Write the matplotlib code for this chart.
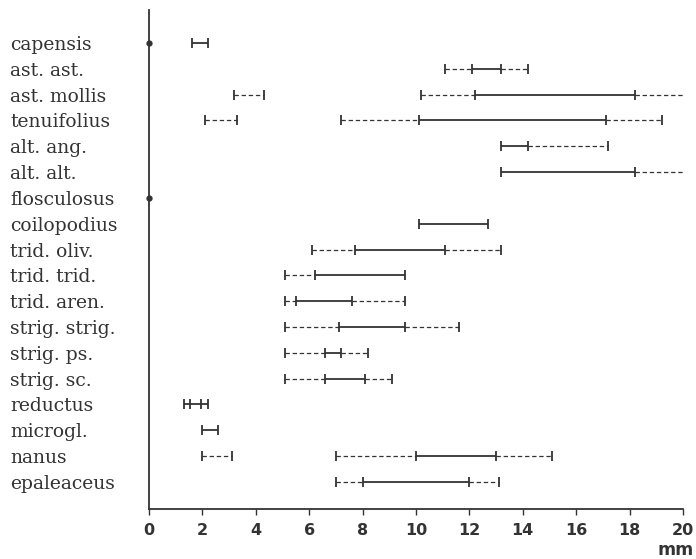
import matplotlib
matplotlib.use("Agg")
from matplotlib import pyplot as plt

##########
# DATA   #
##########

labels = ['capensis', 'ast. ast.', 'ast. mollis', 'tenuifolius', 'alt. ang.',
          'alt. alt.', 'flosculosus', 'coilopodius', 'trid. oliv.', 'trid. trid.',
          'trid. aren.', 'strig. strig.', 'strig. ps.', 'strig. sc.', 'reductus',
          'microgl.', 'nanus', 'epaleaceus']

# break points of each bar (mm), one list per row
bar_points = [
    [[1.6, 2.2]],
    [[11.1, 12.1, 13.2, 14.2]],
    [[3.2, 4.3], [10.2, 12.2, 18.2, 20.2]],
    [[2.1, 3.3], [7.2, 10.1, 17.1, 19.2]],
    [[13.2, 14.2, 17.2]],
    [[13.2, 18.2, 20.2]],
    [],
    [[10.1, 12.7]],
    [[6.1, 7.7, 11.1, 13.2]],
    [[5.1, 6.2, 9.6]],
    [[5.1, 5.5, 7.6, 9.6]],
    [[5.1, 7.1, 9.6, 11.6]],
    [[5.1, 6.6, 7.2, 8.2]],
    [[5.1, 6.6, 8.1, 9.1]],
    [[1.3, 1.55, 1.95, 2.2]],
    [[2.0, 2.6]],
    [[2.0, 3.1], [7.0, 10.0, 13.0, 15.1]],
    [[7.0, 8.0, 12.0, 13.1]],
]

# style of each segment between break points: 's' solid (core), 'd' dashed (extremes)
bar_styles = [
    [['s']],
    [['d', 's', 'd']],
    [['d'], ['d', 's', 'd']],
    [['d'], ['d', 's', 'd']],
    [['s', 'd']],
    [['s', 'd']],
    [],
    [['s']],
    [['d', 's', 'd']],
    [['d', 's']],
    [['d', 's', 'd']],
    [['d', 's', 'd']],
    [['d', 's', 'd']],
    [['d', 's', 'd']],
    [['s', 's', 's']],
    [['s']],
    [['d'], ['d', 's', 'd']],
    [['d', 's', 'd']],
]

# rows that only have a point at zero
dot_rows = ['capensis', 'flosculosus']
dot_value = 0

xticks = list(range(0, 21, 2))

##########
# PLOT   #
##########

ink = '#333333'

fig = plt.figure(figsize=(6.96, 5.59), dpi=100)
ax = fig.add_axes([149 / 696, 1 - 509 / 559, (683 - 149) / 696, (509 - 10) / 559])

for i, (bars, styles) in enumerate(zip(bar_points, bar_styles)):
    for pts, sty in zip(bars, styles):
        for x0, x1, s in zip(pts[:-1], pts[1:], sty):
            if s == 's':
                ax.plot([x0, x1], [i, i], '-', color=ink, lw=1.3, solid_capstyle='butt')
            else:
                ax.plot([x0, x1], [i, i], color=ink, lw=0.9, dashes=(3.5, 2.2))
        ax.plot(pts, [i] * len(pts), linestyle='none', marker='|', ms=7,
                mew=1.3, color=ink)

for name in dot_rows:
    ax.plot(dot_value, labels.index(name), 'o', ms=3.5, color=ink, clip_on=False,
            zorder=5)

ax.set_xlim(0, 20)
ax.set_ylim(18.05, -1.28)

ax.spines['top'].set_visible(False)
ax.spines['right'].set_visible(False)
for sp in ['left', 'bottom']:
    ax.spines[sp].set_color(ink)
    ax.spines[sp].set_linewidth(1.3)

ax.set_xticks(xticks)
ax.set_xticklabels([str(t) for t in xticks], fontsize=11.5, fontweight='bold',
                   color=ink)
ax.tick_params(axis='x', length=4, width=1, color=ink, pad=6)

ax.set_yticks(range(len(labels)))
ax.set_yticklabels(labels, ha='left', fontsize=13.5, family='DejaVu Serif', color=ink)
ax.tick_params(axis='y', length=0, pad=139 * 0.72)

fig.text(694 / 696, 1 - 550 / 559, 'mm', ha='right', va='center', fontsize=12.5,
         fontweight='bold', color=ink)

plt.savefig('out.png', dpi=100)
